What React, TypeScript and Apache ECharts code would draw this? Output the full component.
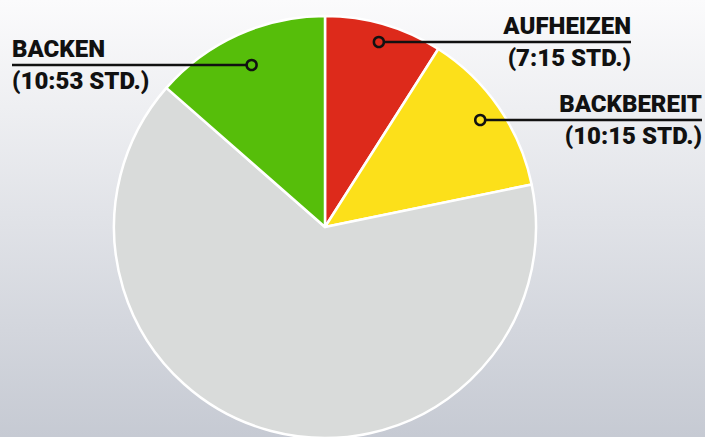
import React, { useEffect, useRef } from "react";
import * as echarts from "echarts";

// Data (hours)
const names = ["AUFHEIZEN", "BACKBEREIT", "REST", "BACKEN"];
const timeLabels = ["(7:15 STD.)", "(10:15 STD.)", "", "(10:53 STD.)"];
const hours = [7.25, 10.25, 52.0, 10.883];
const colors = ["#DD2A1B", "#FCE01A", "#D9DBDA", "#56BE0A"];

// Label layout config (positions only)
const labelY = [42, 120, 0, 65];
const labelX = [631, 702, 0, 12];
const labelAlign = ["right", "right", "left", "left"];

const CX = 325;
const CY = 227;
const R = 211;

function midAngle(i: number): number {
  const total = hours.reduce((a, b) => a + b, 0);
  let cum = 0;
  for (let k = 0; k < i; k++) cum += hours[k];
  return ((cum + hours[i] / 2) / total) * Math.PI * 2;
}

function dotPoint(i: number): [number, number] {
  const th = midAngle(i);
  const y = labelY[i];
  const x = CX + (CY - y) * Math.tan(th);
  return [x, y];
}

export default function App() {
  const ref = useRef<HTMLDivElement>(null);
  useEffect(() => {
    document.body.style.margin = "0";
    const chart = echarts.init(ref.current!, null, { renderer: "svg" });
    const data = names.map((n, i) => ({
      name: n,
      value: hours[i],
      itemStyle: { color: colors[i] },
      label: { show: i !== 2 },
    }));
    const marks: any[] = [];
    [0, 1, 3].forEach((i) => {
      const [x, y] = dotPoint(i);
      const ex = labelX[i];
      marks.push({
        type: "line",
        shape: { x1: x, y1: y, x2: ex, y2: y },
        style: { stroke: "#111", lineWidth: 2.5 },
        z: 100,
      });
      marks.push({
        type: "circle",
        shape: { cx: x, cy: y, r: 5 },
        style: { fill: colors[i], stroke: "#111", lineWidth: 2.5 },
        z: 101,
      });
    });
    chart.setOption({
      animation: false,
      backgroundColor: {
        type: "linear",
        x: 0,
        y: 0,
        x2: 0,
        y2: 1,
        colorStops: [
          { offset: 0, color: "#fbfbfc" },
          { offset: 1, color: "#c6cad3" },
        ],
      },
      series: [
        {
          type: "pie",
          center: [CX, CY],
          radius: [0, R],
          startAngle: 90,
          clockwise: true,
          silent: true,
          itemStyle: { borderColor: "#ffffff", borderWidth: 2.5 },
          label: {
            show: true,
            position: "outside",
            formatter: (p: any) => `${p.name}\n${timeLabels[p.dataIndex]}`,
            fontFamily: "Roboto",
            fontWeight: 900,
            fontSize: 24,
            lineHeight: 32,
            color: "#111111",
          },
          labelLine: { show: false },
          labelLayout: (params: any) => {
            const i = params.dataIndex;
            return {
              x: labelX[i],
              y: labelY[i],
              align: labelAlign[i],
              verticalAlign: "middle",
            };
          },
          data,
        },
      ],
      graphic: marks,
    });
    return () => chart.dispose();
  }, []);
  return (
    <div
      ref={ref}
      style={{ position: "fixed", left: 0, top: 0, width: 705, height: 437 }}
    />
  );
}
